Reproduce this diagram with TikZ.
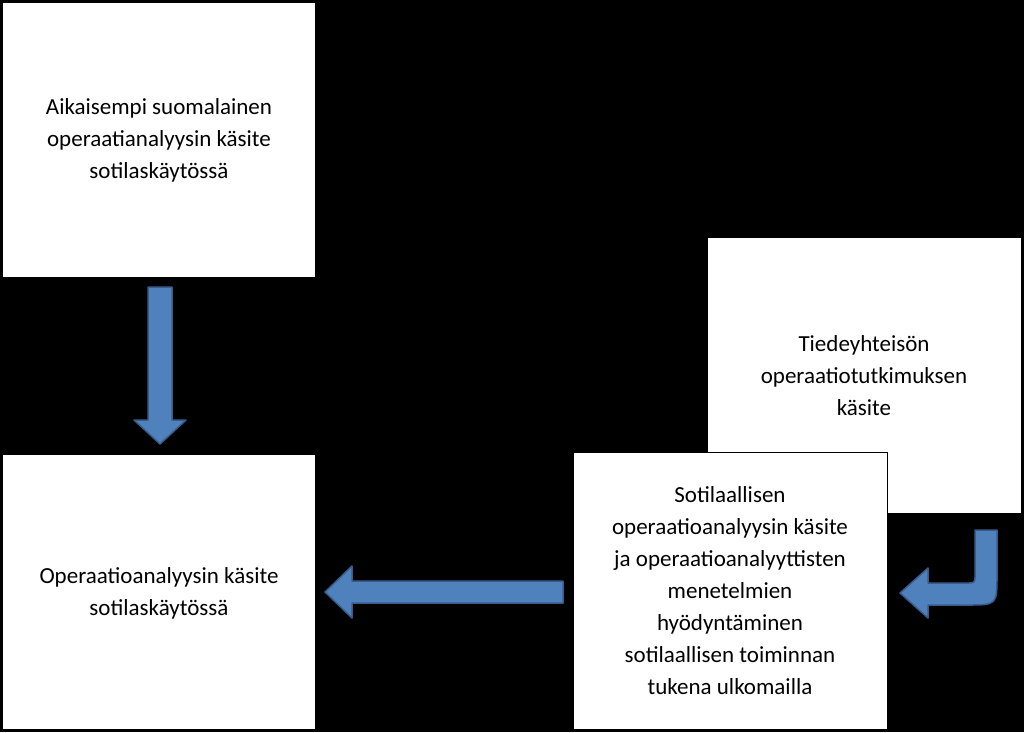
\documentclass[tikz,border=0pt]{standalone}
\usepackage{fontspec}
\setmainfont{Carlito}
\begin{document}
\begin{tikzpicture}[x=1pt,y=-1pt,
  box/.style = {fill=white, draw=none},
  txt/.style = {align=center, font=\fontsize{23}{32}\selectfont},
  blk/.style = {fill={rgb,255:red,79;green,129;blue,189}, draw={rgb,255:red,56;green,93;blue,138}, line width=1.5pt, line join=round}]
  \fill[black] (0,0) rectangle (1024,732);
  \useasboundingbox (0,0) rectangle (1024,732);
  % boxes
  \draw[box] (3,3) rectangle (315,277);
  \draw[box] (3,455) rectangle (315,729);
  \draw[box] (708,238) rectangle (1021,513);
  \draw[box, draw=black, line width=1pt] (573,452) rectangle (887,729);
  % texts
  \node[txt] (aik) at (159,140) {Aikaisempi suomalainen\\operaatianalyysin käsite\\sotilaskäytössä};
  \node[txt] (oper) at (159,593) {Operaatioanalyysin käsite\\sotilaskäytössä};
  \node[txt] (tied) at (864,376) {Tiedeyhteisön\\operaatiotutkimuksen\\käsite};
  \node[txt] (sot) at (730,591) {Sotilaallisen\\operaatioanalyysin käsite\\ja operaatioanalyyttisten\\menetelmien\\hyödyntäminen\\sotilaallisen toiminnan\\tukena ulkomailla};
  % block arrows
  \draw[blk] (148,287) -- (172,287) -- (172,420) -- (186,420) -- (160,444)
    -- (134,420) -- (148,420) -- cycle;
  \draw[blk] (563,581) -- (563,603) -- (352,603) -- (352,618) -- (325,592)
    -- (352,566) -- (352,581) -- cycle;
  \draw[blk] (975,530) -- (997,530) -- (997,575) .. controls (997,605) .. (967,605)
    -- (928,605) -- (928,618) -- (900,593) -- (928,568) -- (928,583) -- (967,583)
    .. controls (975,583) .. (975,575) -- cycle;
\end{tikzpicture}
\end{document}
